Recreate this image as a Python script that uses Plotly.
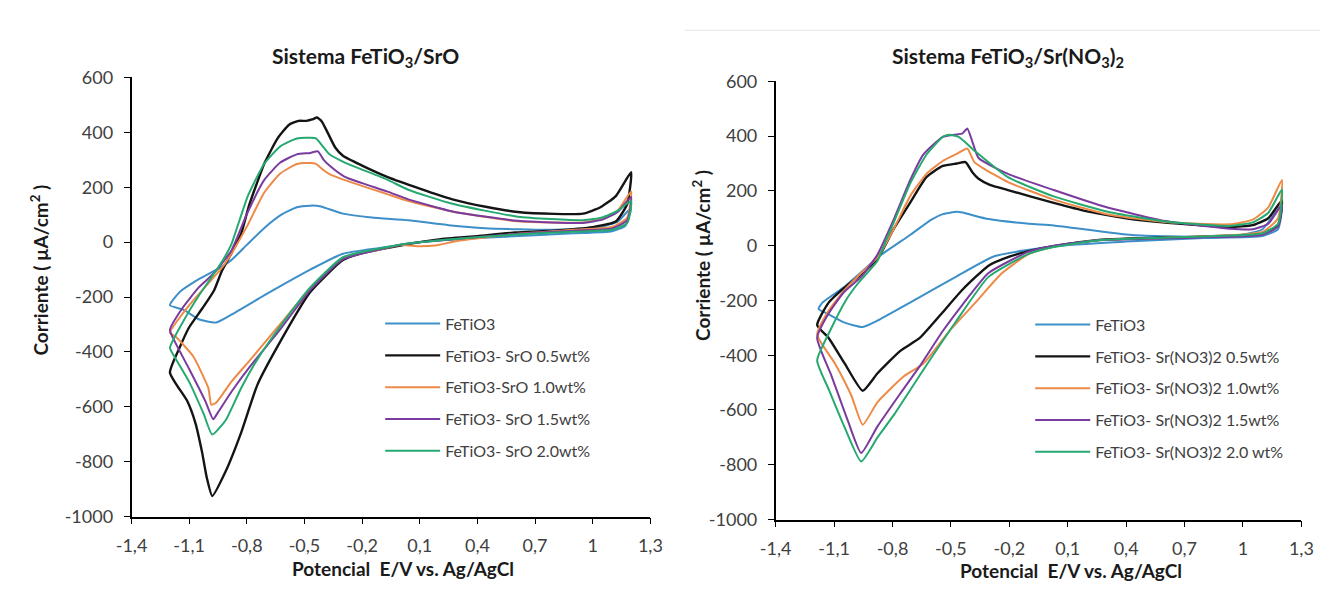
import plotly.graph_objects as go

# ---------------- data: left panel (FeTiO3/SrO) ----------------
L_labels = ["FeTiO3", "FeTiO3- SrO 0.5wt%", "FeTiO3-SrO 1.0wt%", "FeTiO3- SrO 1.5wt%", "FeTiO3- SrO 2.0wt%"]

L_fe_x = [-1.2, -1.15, -1.05, -0.93, -0.88, -0.8, -0.71, -0.62, -0.54, -0.47, -0.42, -0.3, -0.15, 0.04, 0.25, 0.44, 0.78, 1.04, 1.13, 1.2,
          1.17, 1.1, 0.9, 0.7, 0.4, 0.1, -0.1, -0.3, -0.47, -0.6, -0.71, -0.88, -0.96, -1.05, -1.13, -1.2]
L_fe_y = [-230, -182, -135, -89, -65, -10, 51, 100, 127, 133, 131, 104, 90, 80, 62, 51, 45, 55, 75, 125,
          60, 40, 32, 25, 15, 0, -20, -42, -100, -150, -194, -264, -293, -281, -246, -230]

L_05_x = [-1.2, -1.15, -1.1, -1.03, -0.97, -0.93, -0.88, -0.83, -0.79, -0.75, -0.71, -0.64, -0.58, -0.53, -0.49, -0.46, -0.435, -0.41, -0.38, -0.34, -0.3, -0.2, -0.07, 0.1, 0.27, 0.45, 0.61, 0.8, 0.95, 1.04, 1.12, 1.2,
          1.18, 1.12, 1.0, 0.8, 0.6, 0.4, 0.2, 0.04, -0.1, -0.2, -0.3, -0.47, -0.64, -0.745, -0.83, -0.91, -0.98, -1.008, -1.033, -1.067, -1.11, -1.2]
L_05_y = [-475, -385, -310, -240, -175, -105, -40, 30, 130, 210, 285, 378, 428, 442, 442, 447, 454, 440, 400, 345, 315, 279, 238, 195, 156, 128, 110, 103, 104, 127, 168, 255,
          140, 75, 55, 42, 35, 22, 10, -7, -25, -40, -65, -182, -380, -520, -695, -835, -925, -859, -765, -660, -579, -475]

L_10_x = [-1.2, -1.1, -1.0, -0.92, -0.87, -0.795, -0.71, -0.626, -0.54, -0.47, -0.44, -0.4, -0.37, -0.29, -0.07, 0.04, 0.27, 0.61, 0.95, 1.05, 1.13, 1.2,
          1.18, 1.1, 0.9, 0.6, 0.3, 0.18, 0.1, 0.0, -0.1, -0.3, -0.47, -0.64, -0.78, -0.88, -0.96, -0.985, -1.0, -1.08, -1.17, -1.2]
L_10_y = [-330, -230, -150, -85, -30, 63, 180, 250, 285, 288, 285, 262, 248, 226, 175, 150, 112, 76, 72, 85, 115, 185,
          90, 55, 45, 30, 5, -12, -15, -10, -25, -60, -170, -310, -427, -508, -585, -592, -532, -415, -345, -330]

L_15_x = [-1.2, -1.135, -1.05, -0.97, -0.88, -0.795, -0.71, -0.626, -0.54, -0.47, -0.43, -0.4, -0.37, -0.29, -0.07, 0.04, 0.27, 0.61, 0.95, 1.05, 1.13, 1.2,
          1.18, 1.1, 0.9, 0.6, 0.3, 0.04, -0.1, -0.3, -0.47, -0.64, -0.78, -0.88, -0.95, -0.975, -1.016, -1.1, -1.17, -1.2]
L_15_y = [-320, -240, -165, -112, -30, 110, 226, 290, 320, 325, 331, 300, 279, 238, 185, 156, 112, 78, 70, 82, 110, 165,
          80, 50, 42, 30, 12, -5, -25, -62, -175, -330, -450, -545, -620, -645, -579, -462, -369, -320]

L_20_x = [-1.2, -1.12, -1.05, -0.98, -0.92, -0.88, -0.795, -0.71, -0.626, -0.54, -0.47, -0.44, -0.4, -0.37, -0.29, -0.07, 0.04, 0.27, 0.61, 0.95, 1.05, 1.13, 1.2,
          1.18, 1.1, 0.9, 0.6, 0.3, 0.04, -0.1, -0.3, -0.47, -0.64, -0.745, -0.83, -0.91, -0.98, -1.025, -1.1, -1.17, -1.2]
L_20_y = [-385, -275, -195, -124, -60, -7, 168, 285, 349, 378, 380, 378, 345, 320, 290, 228, 191, 140, 93, 80, 90, 115, 150,
          70, 45, 38, 28, 12, -5, -22, -55, -165, -320, -427, -532, -649, -701, -625, -509, -425, -385]

# ---------------- data: right panel (FeTiO3/Sr(NO3)2) ----------------
R_labels = ["FeTiO3", "FeTiO3- Sr(NO3)2 0.5wt%", "FeTiO3- Sr(NO3)2 1.0wt%", "FeTiO3- Sr(NO3)2 1.5wt%", "FeTiO3- Sr(NO3)2 2.0 wt%"]

R_fe_x = [-1.18, -1.16, -1.045, -0.95, -0.877, -0.71, -0.6, -0.542, -0.47, -0.44, -0.307, -0.1, 0.028, 0.43, 0.8, 1.0, 1.1, 1.2,
          1.18, 1.1, 0.8, 0.4, 0.028, -0.274, -0.475, -0.71, -0.88, -0.953, -1.05, -1.13, -1.18]
R_fe_y = [-231, -208, -149, -90, -43, 39, 95, 115, 124, 121, 97, 80, 74, 39, 32, 40, 60, 150,
          60, 35, 28, 15, -2, -38, -114, -208, -275, -297, -280, -250, -231]

R_05_x = [-1.187, -1.128, -1.05, -0.961, -0.877, -0.793, -0.71, -0.626, -0.542, -0.47, -0.425, -0.39, -0.358, -0.3, -0.207, 0.028, 0.2, 0.4, 0.6, 0.93, 1.05, 1.13, 1.2,
          1.18, 1.1, 0.77, 0.26, 0.028, -0.1, -0.2, -0.307, -0.441, -0.542, -0.66, -0.76, -0.877, -0.953, -1.045, -1.128, -1.187]
R_05_y = [-290, -208, -155, -105, -48, 62, 156, 250, 291, 300, 305, 268, 244, 222, 203, 156, 125, 100, 84, 68, 75, 100, 165,
          75, 45, 33, 21, -2, -20, -40, -73, -161, -243, -337, -384, -466, -530, -431, -337, -290]

R_10_x = [-1.187, -1.13, -1.05, -0.961, -0.877, -0.793, -0.71, -0.626, -0.542, -0.47, -0.416, -0.38, -0.34, -0.207, 0.028, 0.3, 0.6, 0.93, 1.05, 1.13, 1.2,
          1.18, 1.1, 0.77, 0.26, 0.028, -0.1, -0.24, -0.374, -0.509, -0.642, -0.743, -0.877, -0.953, -1.011, -1.095, -1.187]
R_10_y = [-325, -240, -165, -100, -43, 62, 180, 262, 309, 335, 355, 305, 285, 232, 168, 115, 86, 78, 95, 140, 240,
          100, 50, 33, 20, -4, -30, -102, -208, -313, -431, -478, -571, -654, -548, -431, -325]

R_15_x = [-1.187, -1.13, -1.05, -0.961, -0.877, -0.793, -0.71, -0.642, -0.542, -0.48, -0.44, -0.416, -0.39, -0.358, -0.207, 0.028, 0.3, 0.6, 0.93, 1.05, 1.13, 1.2,
          1.18, 1.1, 0.77, 0.26, 0.028, -0.1, -0.307, -0.44, -0.54, -0.66, -0.76, -0.877, -0.961, -1.028, -1.112, -1.187]
R_15_y = [-337, -250, -170, -114, -32, 97, 238, 332, 397, 405, 410, 428, 380, 320, 262, 203, 140, 90, 62, 60, 80, 150,
          70, 40, 30, 20, 0, -22, -100, -215, -310, -440, -540, -660, -757, -642, -478, -337]

R_20_x = [-1.187, -1.12, -1.04, -0.98, -0.877, -0.827, -0.793, -0.71, -0.626, -0.542, -0.51, -0.46, -0.374, -0.207, 0.028, 0.3, 0.6, 0.93, 1.05, 1.13, 1.2,
          1.18, 1.1, 0.77, 0.26, 0.028, -0.1, -0.307, -0.475, -0.642, -0.793, -0.877, -0.961, -1.045, -1.128, -1.187]
R_20_y = [-419, -310, -200, -140, -55, 30, 86, 226, 332, 397, 405, 397, 344, 250, 180, 125, 88, 72, 85, 120, 205,
          80, 45, 33, 20, -5, -30, -114, -278, -454, -618, -700, -788, -665, -524, -419]

# ---------------- axes ----------------
x_tickvals = [-1.4, -1.1, -0.8, -0.5, -0.2, 0.1, 0.4, 0.7, 1.0, 1.3]
x_ticktext = ["-1,4", "-1,1", "-0,8", "-0,5", "-0,2", "0,1", "0,4", "0,7", "1", "1,3"]
y_tickvals = [600, 400, 200, 0, -200, -400, -600, -800, -1000]
y_ticktext = ["600", "400", "200", "0", "-200", "-400", "-600", "-800", "-1000"]

colors = ["#3C8FC8", "#141414", "#EE8A47", "#7A3B9E", "#25A970"]
widths = [2, 2.4, 2, 2, 2]

W, H = 1332, 595
FONT = "Lato"
TXT = "#404040"
DARK = "#1a1a1a"

def px(xp):
    return xp / W

def py(yp):
    return 1 - yp / H

fig = go.Figure()

left_series = [(L_fe_x, L_fe_y), (L_05_x, L_05_y), (L_10_x, L_10_y), (L_15_x, L_15_y), (L_20_x, L_20_y)]
right_series = [(R_fe_x, R_fe_y), (R_05_x, R_05_y), (R_10_x, R_10_y), (R_15_x, R_15_y), (R_20_x, R_20_y)]

for i, (xs, ys) in enumerate(left_series):
    fig.add_trace(go.Scatter(x=xs, y=ys, mode="lines", name=L_labels[i],
                             line=dict(color=colors[i], width=widths[i], shape="spline", smoothing=0.5),
                             xaxis="x", yaxis="y", legend="legend", legendgroup="L%d" % i))
for i, (xs, ys) in enumerate(right_series):
    fig.add_trace(go.Scatter(x=xs, y=ys, mode="lines", name=R_labels[i],
                             line=dict(color=colors[i], width=widths[i], shape="spline", smoothing=0.5),
                             xaxis="x2", yaxis="y2", legend="legend2", legendgroup="R%d" % i))

axis_common_x = dict(range=[-1.4, 1.3], tickmode="array", tickvals=x_tickvals, ticktext=x_ticktext,
                     showgrid=False, zeroline=False, showline=True, linecolor="#000", linewidth=1.6,
                     ticks="outside", ticklen=6, tickwidth=1.4, tickcolor="#000",
                     tickfont=dict(family=FONT, size=18, color=TXT), ticklabelstandoff=6)
axis_common_y = dict(range=[-1000, 600], tickmode="array", tickvals=y_tickvals, ticktext=y_ticktext,
                     showgrid=False, zeroline=False, showline=True, linecolor="#000", linewidth=1.6,
                     ticks="outside", ticklen=6, tickwidth=1.4, tickcolor="#000",
                     tickfont=dict(family=FONT, size=18, color=TXT), ticklabelstandoff=7)

legend_common = dict(bgcolor="rgba(0,0,0,0)", borderwidth=0, font=dict(family=FONT, size=16, color=TXT),
                     itemwidth=55, tracegroupgap=8, xanchor="left", yanchor="top", orientation="v",
                     itemclick=False, itemdoubleclick=False)

fig.update_layout(
    width=W, height=H,
    margin=dict(l=0, r=0, t=0, b=0),
    paper_bgcolor="white", plot_bgcolor="white",
    font=dict(family=FONT, color=TXT),
    showlegend=True,
    xaxis=dict(domain=[px(118), px(648)], anchor="y", **axis_common_x),
    yaxis=dict(domain=[py(524), py(68)], anchor="x", **axis_common_y),
    xaxis2=dict(domain=[px(776), px(1313)], anchor="y2", **axis_common_x),
    yaxis2=dict(domain=[py(527), py(72)], anchor="x2", **axis_common_y),
    legend=dict(x=px(372), y=py(306), **legend_common),
    legend2=dict(x=px(1036), y=py(307), **legend_common),
)

ann = []
ann.append(dict(text="<b>Sistema FeTiO<sub>3</sub>/SrO</b>", x=px(357), y=py(47), size=21))
ann.append(dict(text="<b>Sistema FeTiO<sub>3</sub>/Sr(NO<sub>3</sub>)<sub>2</sub></b>", x=px(1013), y=py(47), size=21))
ann.append(dict(text="<b>Potencial  E/V vs. Ag/AgCl</b>", x=px(395), y=py(578), size=19))
ann.append(dict(text="<b>Potencial  E/V vs. Ag/AgCl</b>", x=px(1078), y=py(580), size=19))
final_ann = []
for a in ann:
    s = a.pop("size")
    a.update(xref="paper", yref="paper", xanchor="center", yanchor="middle", showarrow=False,
             font=dict(family=FONT, size=s, color=DARK))
    final_ann.append(a)
final_ann.append(dict(text="<b>Corriente ( µA/cm<sup>2</sup> )</b>", x=px(24), y=py(268), textangle=-90,
                      xref="paper", yref="paper", xanchor="center", yanchor="middle", showarrow=False,
                      font=dict(family=FONT, size=19, color=DARK)))
final_ann.append(dict(text="<b>Corriente ( µA/cm<sup>2</sup> )</b>", x=px(700), y=py(253), textangle=-90,
                      xref="paper", yref="paper", xanchor="center", yanchor="middle", showarrow=False,
                      font=dict(family=FONT, size=19, color=DARK)))
fig.update_layout(annotations=final_ann)

fig.add_shape(type="line", xref="paper", yref="paper", x0=px(683), x1=1, y0=py(19), y1=py(19),
              line=dict(color="#e6e6e6", width=1))

fig.write_html("out.html")
